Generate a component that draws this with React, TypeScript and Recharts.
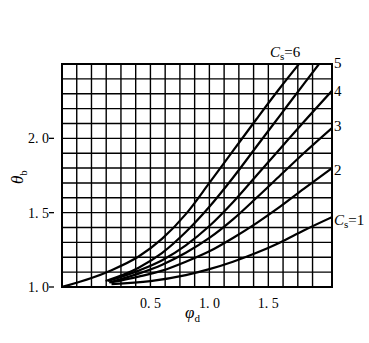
import React from "react";
import {
  LineChart, Line, XAxis, YAxis, CartesianGrid, ReferenceArea, Customized,
} from "recharts";

// grid / ticks
const gridX = [
  -0.25, -0.125, 0, 0.125, 0.25, 0.375, 0.5, 0.625, 0.75, 0.875,
  1.0, 1.125, 1.25, 1.375, 1.5, 1.625, 1.75, 1.875,
];
const gridY = [1.0, 1.1, 1.2, 1.3, 1.4, 1.5, 1.6, 1.7, 1.8, 1.9, 2.0, 2.1, 2.2, 2.3, 2.4, 2.5];
const xTickValues = [0.5, 1.0, 1.5];
const xTickText = ["0. 5", "1. 0", "1. 5"];
const yTickValues = [1.0, 1.5, 2.0];
const yTickText = ["1. 0", "1. 5", "2. 0"];

// curves: phi_d (x) vs theta_b (y), one list per Cs
const cs6X = [-0.25, 0.0, 0.16, 0.4, 0.6, 0.8, 1.0, 1.2, 1.4, 1.6, 1.76];
const cs6Y = [1.0, 1.06, 1.11, 1.205, 1.325, 1.49, 1.7, 1.915, 2.13, 2.34, 2.5];
const cs5X = [0.12, 0.4, 0.6, 0.8, 1.0, 1.2, 1.4, 1.6, 1.8, 1.93];
const cs5Y = [1.04, 1.13, 1.23, 1.37, 1.54, 1.735, 1.945, 2.155, 2.365, 2.5];
const cs4X = [0.14, 0.4, 0.6, 0.8, 1.0, 1.2, 1.4, 1.6, 1.8, 2.04];
const cs4Y = [1.04, 1.11, 1.18, 1.28, 1.41, 1.57, 1.75, 1.93, 2.11, 2.32];
const cs3X = [0.15, 0.4, 0.6, 0.8, 1.0, 1.2, 1.4, 1.6, 1.8, 2.04];
const cs3Y = [1.03, 1.09, 1.15, 1.23, 1.33, 1.455, 1.6, 1.75, 1.9, 2.07];
const cs2X = [0.16, 0.4, 0.6, 0.8, 1.0, 1.2, 1.4, 1.6, 1.8, 2.04];
const cs2Y = [1.03, 1.07, 1.11, 1.17, 1.24, 1.33, 1.43, 1.54, 1.66, 1.8];
const cs1X = [0.17, 0.5, 0.8, 1.0, 1.2, 1.4, 1.6, 1.8, 2.04];
const cs1Y = [1.02, 1.04, 1.08, 1.12, 1.17, 1.23, 1.3, 1.38, 1.47];

const toPts = (xs: number[], ys: number[]) => xs.map((x, i) => ({ x, y: ys[i] }));
const series = [
  toPts(cs6X, cs6Y), toPts(cs5X, cs5Y), toPts(cs4X, cs4Y),
  toPts(cs3X, cs3Y), toPts(cs2X, cs2Y), toPts(cs1X, cs1Y),
];

const FONT = "'Liberation Serif', 'DejaVu Serif', serif";

const XTick = (props: any) => {
  const { x, y, payload } = props;
  const i = xTickValues.findIndex((v) => Math.abs(v - payload.value) < 1e-6);
  if (i < 0) return null;
  return (
    <text x={x} y={y + 13} textAnchor="middle" fontFamily={FONT} fontSize={14} fill="#000">
      {xTickText[i]}
    </text>
  );
};

const YTick = (props: any) => {
  const { x, y, payload } = props;
  const i = yTickValues.findIndex((v) => Math.abs(v - payload.value) < 1e-6);
  if (i < 0) return null;
  return (
    <g>
      <line x1={x - 5} x2={x} y1={y} y2={y} stroke="#000" strokeWidth={1.3} />
      <text x={x - 5} y={y + 5} textAnchor="end" fontFamily={FONT} fontSize={14} fill="#000">
        {yTickText[i]}
      </text>
    </g>
  );
};

const Labels = () => (
  <g fontFamily={FONT} fill="#000">
    <text x={270} y={57} fontSize={15}>
      <tspan fontStyle="italic">C</tspan>
      <tspan fontSize={11} dy={3}>s</tspan>
      <tspan dy={-3}>=6</tspan>
    </text>
    <text x={334} y={68} fontSize={15}>5</text>
    <text x={334} y={96} fontSize={15}>4</text>
    <text x={334} y={131} fontSize={15}>3</text>
    <text x={334} y={175} fontSize={15}>2</text>
    <text x={334} y={225} fontSize={15}>
      <tspan fontStyle="italic">C</tspan>
      <tspan fontSize={11} dy={3}>s</tspan>
      <tspan dy={-3}>=1</tspan>
    </text>
    <text x={185} y={318} fontSize={17}>
      <tspan fontStyle="italic">φ</tspan>
      <tspan fontSize={11} dy={4}>d</tspan>
    </text>
    <text transform="translate(23,184) rotate(-90)" fontSize={17}>
      <tspan fontStyle="italic">θ</tspan>
      <tspan fontSize={11} dy={4}>b</tspan>
    </text>
  </g>
);

export default function App() {
  return (
    <div style={{ position: "absolute", left: 0, top: 0, background: "#fff" }}>
      <LineChart width={369} height={343} margin={{ top: 64, right: 37, left: 22, bottom: 26 }}>
        <CartesianGrid stroke="#000" strokeWidth={1.4} />
        <XAxis
          dataKey="x" type="number" domain={[-0.25, 2.04]} ticks={gridX} interval={0}
          allowDataOverflow axisLine={false} tickLine={false} tick={<XTick />} height={30}
        />
        <YAxis
          type="number" domain={[1, 2.5]} ticks={gridY} interval={0}
          allowDataOverflow axisLine={false} tickLine={false} tick={<YTick />} width={40}
        />
        <ReferenceArea
          x1={-0.25} x2={2.04} y1={1} y2={2.5}
          fill="none" fillOpacity={0} stroke="#000" strokeWidth={2}
        />
        {series.map((d, i) => (
          <Line
            key={i} data={d} dataKey="y" type="monotone" stroke="#000" strokeWidth={2.2}
            dot={false} isAnimationActive={false}
          />
        ))}
        <Customized component={Labels} />
      </LineChart>
    </div>
  );
}
